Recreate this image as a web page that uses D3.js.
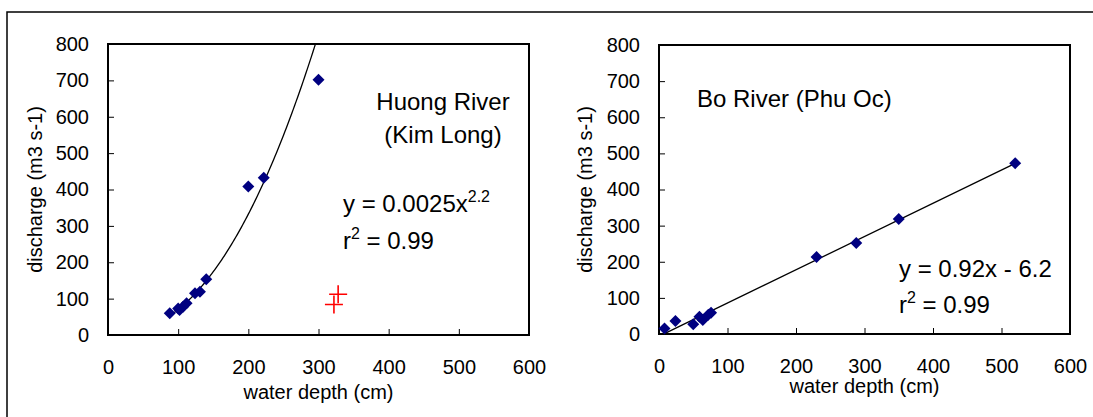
<!DOCTYPE html>
<html>
<head>
<meta charset="utf-8">
<script src="https://d3js.org/d3.v7.min.js"></script>
<style>
  body { margin: 0; background: #fff; }
  text { font-family: Arial, "Liberation Sans", sans-serif; fill: #000; }
</style>
</head>
<body>
<div id="chart"></div>
<script>
// Huong River (Kim Long) rating data
var huongDepth = [88, 100, 102, 107, 112, 124, 131, 140, 200, 222, 300];
var huongDischarge = [60, 73, 69, 78, 87, 115, 119, 153, 408, 432, 702];
// power fit drawn in the picture (y = a * x^b)
var huongFitA = 0.00222;
var huongFitB = 2.249;
// red crosses
var huongCrossDepth = [328, 322];
var huongCrossDischarge = [112, 84];

// Bo River (Phu Oc) rating data
var boDepth = [8, 24, 50, 59, 64, 72, 76, 230, 288, 350, 520];
var boDischarge = [15, 36, 27, 48, 39, 53, 59, 213, 252, 318, 473];
// linear fit y = 0.92x - 6.2
var boSlope = 0.92;
var boIntercept = -6.2;

var xTicks = [0, 100, 200, 300, 400, 500, 600];
var yTicks = [0, 100, 200, 300, 400, 500, 600, 700, 800];

var svgWidth = 1093;
var svgHeight = 417;

var svg = d3.select("#chart")
  .append("svg")
  .attr("width", svgWidth)
  .attr("height", svgHeight);

// outer frame (cropped on right and bottom)
svg.append("rect")
  .attr("x", 7)
  .attr("y", 12)
  .attr("width", 1200)
  .attr("height", 600)
  .attr("fill", "none")
  .attr("stroke", "#000")
  .attr("stroke-width", 1.5);

function drawPanel(opt) {
  var g = svg.append("g");
  var x = d3.scaleLinear().domain([0, 600]).range([opt.left, opt.right]);
  var y = d3.scaleLinear().domain([0, 800]).range([opt.bottom, opt.top]);

  // axes with inward ticks
  var xAxis = g.append("g")
    .attr("transform", `translate(0, ${opt.bottom})`)
    .call(d3.axisBottom(x).tickValues(xTicks).tickSizeInner(-6).tickSizeOuter(0).tickPadding(24));
  var yAxis = g.append("g")
    .attr("transform", `translate(${opt.left}, 0)`)
    .call(d3.axisLeft(y).tickValues(yTicks).tickSizeInner(-6).tickSizeOuter(0).tickPadding(19));

  [xAxis, yAxis].forEach(function (a) {
    a.select(".domain").remove();
    a.selectAll("line").attr("stroke", "#000").attr("stroke-width", 1);
    a.selectAll("text")
      .attr("font-size", "20px")
      .attr("font-family", "Arial, 'Liberation Sans', sans-serif")
      .attr("fill", "#000");
  });
  xAxis.selectAll("text").attr("dy", "0.35em").attr("y", 32);

  // plot border
  g.append("rect")
    .attr("x", opt.left)
    .attr("y", opt.top)
    .attr("width", opt.right - opt.left)
    .attr("height", opt.bottom - opt.top)
    .attr("fill", "none")
    .attr("stroke", "#000")
    .attr("stroke-width", 2);

  // trend line
  g.append("path")
    .datum(opt.fit)
    .attr("d", d3.line().x(d => x(d[0])).y(d => y(d[1])))
    .attr("fill", "none")
    .attr("stroke", "#000")
    .attr("stroke-width", 1.3);

  // diamonds
  g.selectAll(".pt")
    .data(opt.depth)
    .enter()
    .append("path")
    .attr("class", "pt")
    .attr("d", "M0,-6L6,0L0,6L-6,0Z")
    .attr("transform", (d, i) => `translate(${x(d)}, ${y(opt.discharge[i])})`)
    .attr("fill", "#000080");

  // axis titles
  g.append("text")
    .attr("x", (opt.left + opt.right) / 2)
    .attr("y", opt.xTitleY)
    .attr("text-anchor", "middle")
    .attr("font-size", "20px")
    .text("water depth (cm)");

  g.append("text")
    .attr("transform", `translate(${opt.yTitleX}, ${(opt.top + opt.bottom) / 2}) rotate(-90)`)
    .attr("text-anchor", "middle")
    .attr("font-size", "20px")
    .text("discharge (m3 s-1)");

  return { g: g, x: x, y: y };
}

// Left panel: power curve
var huongCurve = [];
for (var d = 90; d <= 600; d += 2) {
  var q = huongFitA * Math.pow(d, huongFitB);
  if (q > 800) {
    // stop exactly at the top border
    huongCurve.push([Math.pow(800 / huongFitA, 1 / huongFitB), 800]);
    break;
  }
  huongCurve.push([d, q]);
}

var left = drawPanel({
  left: 108, right: 529, top: 44, bottom: 335,
  depth: huongDepth, discharge: huongDischarge,
  fit: huongCurve, xTitleY: 399, yTitleX: 42
});

// red crosses
left.g.selectAll(".cross")
  .data(huongCrossDepth)
  .enter()
  .append("path")
  .attr("class", "cross")
  .attr("d", "M-9,0H9M0,-9V9")
  .attr("transform", (d, i) => `translate(${left.x(d)}, ${left.y(huongCrossDischarge[i])})`)
  .attr("stroke", "#ff0000")
  .attr("stroke-width", 1.6)
  .attr("fill", "none");

left.g.append("text").attr("x", 443).attr("y", 110).attr("text-anchor", "middle")
  .attr("font-size", "24px").text("Huong River");
left.g.append("text").attr("x", 443).attr("y", 143).attr("text-anchor", "middle")
  .attr("font-size", "24px").text("(Kim Long)");

var eq1 = left.g.append("text").attr("x", 343).attr("y", 212).attr("font-size", "24px");
eq1.append("tspan").text("y = 0.0025x");
eq1.append("tspan").attr("dy", -10).attr("font-size", "16px").text("2.2");
var r1 = left.g.append("text").attr("x", 343).attr("y", 249).attr("font-size", "24px");
r1.append("tspan").text("r");
r1.append("tspan").attr("dy", -10).attr("font-size", "16px").text("2");
r1.append("tspan").attr("dy", 10).text(" = 0.99");

// Right panel: linear fit
var boLine = [[8, boSlope * 8 + boIntercept], [520, boSlope * 520 + boIntercept]];
var right = drawPanel({
  left: 659, right: 1070, top: 45, bottom: 334,
  depth: boDepth, discharge: boDischarge,
  fit: boLine, xTitleY: 393, yTitleX: 592
});

right.g.append("text").attr("x", 697).attr("y", 107)
  .attr("font-size", "24px").text("Bo River (Phu Oc)");

var eq2 = right.g.append("text").attr("x", 899).attr("y", 277).attr("font-size", "24px");
eq2.append("tspan").text("y = 0.92x - 6.2");
var r2 = right.g.append("text").attr("x", 899).attr("y", 313).attr("font-size", "24px");
r2.append("tspan").text("r");
r2.append("tspan").attr("dy", -10).attr("font-size", "16px").text("2");
r2.append("tspan").attr("dy", 10).text(" = 0.99");
</script>
</body>
</html>
